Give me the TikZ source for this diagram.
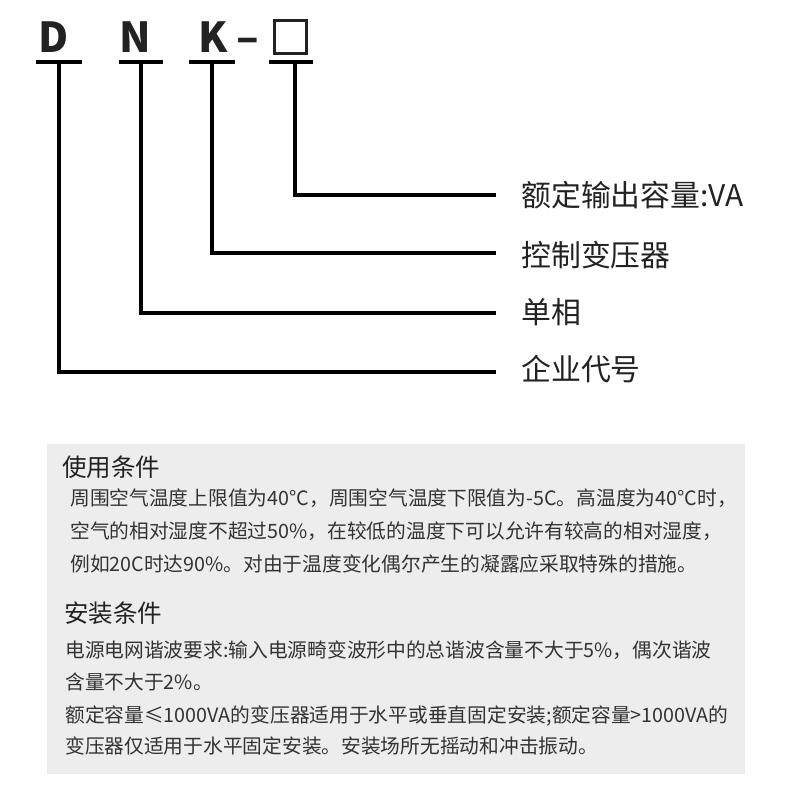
\documentclass[tikz,border=0pt]{standalone}
\usepackage{fontspec}
\setmainfont{Noto Sans CJK SC}
\definecolor{panel}{HTML}{EDEDED}
\definecolor{ink}{HTML}{222222}
\definecolor{bodytext}{HTML}{333333}
\begin{document}
\begin{tikzpicture}[x=0.75pt,y=-0.75pt,
  lead/.style={line width=3pt,line join=miter},
  letter/.style={anchor=base,inner sep=0pt,text=ink,font=\fontsize{31}{31}\selectfont\bfseries},
  codebox/.style={draw=ink,line width=2.2pt,inner sep=0pt,minimum width=24pt,minimum height=24.75pt},
  lbl/.style={anchor=base west,inner sep=0pt,text=ink,font=\fontsize{22.4}{22.4}\selectfont},
  head/.style={anchor=base west,inner sep=0pt,text=ink,font=\fontsize{18.4}{18.4}\selectfont},
  body/.style={anchor=base west,inner sep=0pt,text=bodytext,font=\fontsize{14.8}{14.8}\selectfont}]
\useasboundingbox (0,0) rectangle (790,790);

% model code
\node[letter] (D) at (53.5,52) {D};
\node[letter] (N) at (135,52) {N};
\node[letter] (K) at (213.5,52) {K};
\node[letter] (dash) at (247.5,52) {–};
\node[codebox] (cap) at (290.5,37) {};

\draw[lead] (36,62) -- (82,62);
\draw[lead] (119,62) -- (163,62);
\draw[lead] (189,62) -- (235,62);
\draw[lead] (269,62) -- (313,62);

\coordinate (uD) at (59,62);
\coordinate (uN) at (141,62);
\coordinate (uK) at (212,62);
\coordinate (uC) at (295,62);
\coordinate (eC) at (496,195);
\coordinate (eK) at (496,253);
\coordinate (eN) at (496,313);
\coordinate (eD) at (496,372);

\draw[lead] (uC) |- (eC);
\draw[lead] (uK) |- (eK);
\draw[lead] (uN) |- (eN);
\draw[lead] (uD) |- (eD);

\node[lbl] (lC) at (521,206) {额定输出容量:VA};
\node[lbl] (lK) at (521,266) {控制变压器};
\node[lbl] (lN) at (521,323) {单相};
\node[lbl] (lD) at (521,380) {企业代号};

% conditions panel
\fill[panel] (47,444) rectangle (745,774);
\node[head] (use) at (62,476) {使用条件};
\node[body] (u1) at (70,505) {周围空气温度上限值为40°C，周围空气温度下限值为-5C。高温度为40°C时，};
\node[body] (u2) at (70,538) {空气的相对湿度不超过50\%，在较低的温度下可以允许有较高的相对湿度，};
\node[body] (u3) at (70,571) {例如20C时达90\%。对由于温度变化偶尔产生的凝露应采取特殊的措施。};
\node[head] (mount) at (64,622) {安装条件};
\node[body] (m1) at (65,657) {电源电网谐波要求:输入电源畸变波形中的总谐波含量不大于5\%，偶次谐波};
\node[body] (m2) at (65,689) {含量不大于2\%。};
\node[body] (m3) at (65,722) {额定容量≤1000VA的变压器适用于水平或垂直固定安装;额定容量>1000VA的};
\node[body] (m4) at (65,753) {变压器仅适用于水平固定安装。安装场所无摇动和冲击振动。};
\end{tikzpicture}
\end{document}
